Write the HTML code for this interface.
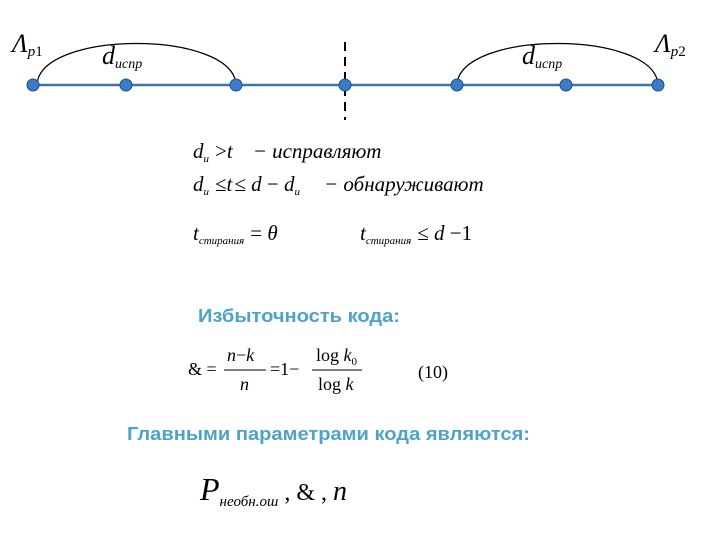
<!DOCTYPE html>
<html><head><meta charset="utf-8"><style>
body{margin:0;background:#fff;width:720px;height:540px;overflow:hidden}
svg{display:block}
.m{font-family:"Liberation Serif",serif;font-style:italic;fill:#000}
.r{font-family:"Liberation Serif",serif;fill:#000}
.h{font-family:"Liberation Sans",sans-serif;font-weight:bold;fill:#4ea3c9;font-size:18px}
</style></head><body>
<svg width="720" height="540" viewBox="0 0 720 540">
<line x1="33" y1="85" x2="658" y2="85" stroke="#3f74a6" stroke-width="2.5"/>
<path d="M37 84 C 42 30, 231 30, 236 84" fill="none" stroke="#000" stroke-width="1.2"/>
<path d="M457 84 C 462 30, 653 30, 658 84" fill="none" stroke="#000" stroke-width="1.2"/>
<line x1="345" y1="42" x2="345" y2="120" stroke="#000" stroke-width="2" stroke-dasharray="9,6"/>
<g fill="#3a7cc8" stroke="#1f4f8a" stroke-width="1">
<circle cx="33" cy="85" r="6"/><circle cx="126" cy="85" r="6"/><circle cx="236" cy="85" r="6"/>
<circle cx="345" cy="85" r="6"/><circle cx="457" cy="85" r="6"/><circle cx="566" cy="85" r="6"/><circle cx="658" cy="85" r="6"/>
</g>
<text class="m" x="12" y="52" font-size="26">Λ<tspan font-size="15" dy="4">p</tspan><tspan font-style="normal" font-size="15">1</tspan></text>
<text class="m" x="102" y="64" font-size="26">d<tspan font-size="14" dy="4">испр</tspan></text>
<text class="m" x="522" y="64" font-size="26">d<tspan font-size="14" dy="4">испр</tspan></text>
<text class="m" x="655" y="52" font-size="26">Λ<tspan font-size="15" dy="4">p</tspan><tspan font-style="normal" font-size="15">2</tspan></text>
<text class="m" x="193" y="158" font-size="21">d<tspan font-size="11" dy="4">и</tspan><tspan dy="-4" dx="6" font-style="normal">&gt;</tspan>t<tspan dx="20">− исправляют</tspan></text>
<text class="m" x="193" y="191" font-size="21">d<tspan font-size="11" dy="4">и</tspan><tspan dy="-4" dx="6" font-style="normal">≤</tspan>t<tspan font-style="normal" dx="2">≤ </tspan>d<tspan font-style="normal"> − </tspan>d<tspan font-size="11" dy="4">и</tspan><tspan dy="-4" dx="24">− обнаруживают</tspan></text>
<text class="m" x="193" y="240" font-size="21">t<tspan font-size="11" dy="4">стирания</tspan><tspan dy="-4" dx="6" font-style="normal">= </tspan>θ</text>
<text class="m" x="360" y="240" font-size="21">t<tspan font-size="11" dy="4">стирания</tspan><tspan dy="-4" dx="6" font-style="normal">≤ </tspan>d<tspan font-style="normal"> −1</tspan></text>
<text class="h" x="198" y="322" textLength="202" lengthAdjust="spacingAndGlyphs">Избыточность кода:</text>
<text class="r" x="188" y="375" font-size="18">&amp; =</text>
<text class="m" x="227" y="361" font-size="18">n<tspan font-style="normal">−</tspan>k</text>
<line x1="224" y1="370" x2="266" y2="370" stroke="#000" stroke-width="1"/>
<text class="m" x="240" y="390" font-size="18">n</text>
<text class="r" x="270" y="375" font-size="18">=1−</text>
<text class="r" x="316" y="361" font-size="18">log <tspan font-style="italic">k</tspan><tspan font-size="11" dy="4">0</tspan></text>
<line x1="312" y1="370" x2="362" y2="370" stroke="#000" stroke-width="1"/>
<text class="r" x="318" y="390" font-size="18">log <tspan font-style="italic">k</tspan></text>
<text class="r" x="418" y="378" font-size="18">(10)</text>
<text class="h" x="127" y="440" textLength="403" lengthAdjust="spacingAndGlyphs">Главными параметрами кода являются:</text>
<text class="m" x="200" y="500" font-size="32">P<tspan font-size="15" dy="6">необн.ош</tspan><tspan dy="-6" font-style="normal" font-size="24"> , &amp; , </tspan><tspan font-size="28">n</tspan></text>
</svg>
</body></html>
